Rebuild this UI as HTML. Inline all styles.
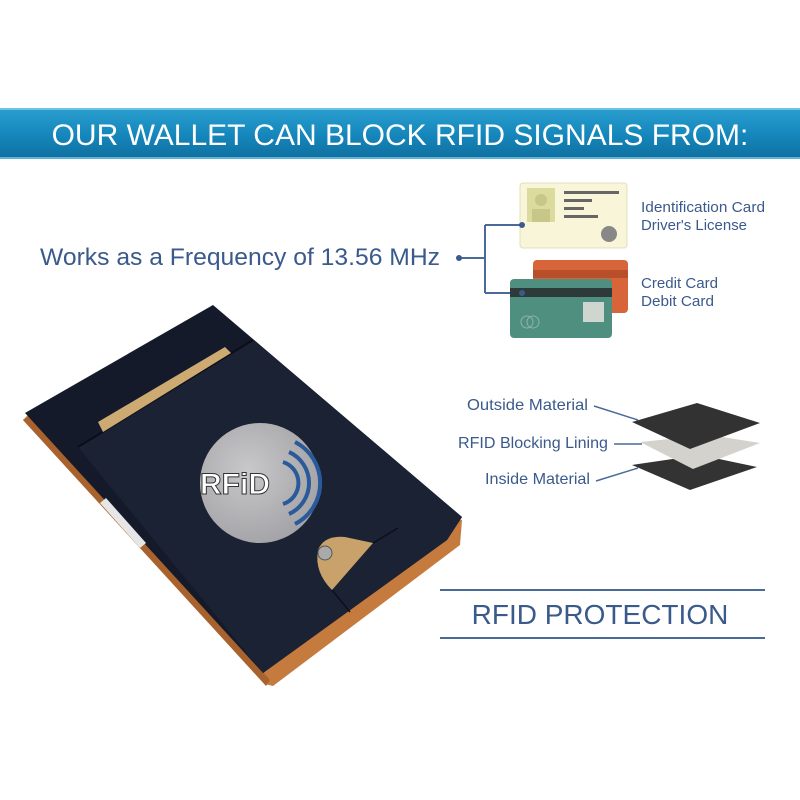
<!DOCTYPE html>
<html><head><style>
body{margin:0;background:#fff;}
svg{display:block}
</style></head><body>
<svg width="800" height="800" viewBox="0 0 800 800" xmlns="http://www.w3.org/2000/svg" font-family="'Liberation Sans',sans-serif">
<defs>
<linearGradient id="hb" x1="0" y1="0" x2="0" y2="1">
<stop offset="0" stop-color="#2a9fcf"/><stop offset="0.5" stop-color="#1688bd"/><stop offset="1" stop-color="#0f6f9f"/>
</linearGradient>
<radialGradient id="circ" cx="0.4" cy="0.4" r="0.7"><stop offset="0" stop-color="#c8c8ca"/><stop offset="1" stop-color="#a0a0a4"/></radialGradient>
</defs>
<rect x="0" y="108" width="800" height="51" fill="url(#hb)"/>
<rect x="0" y="108" width="800" height="2" fill="#6cc3e6"/>
<rect x="0" y="157" width="800" height="2" fill="#5fb4d8"/>
<text x="400" y="145" text-anchor="middle" fill="#fff" font-size="30">OUR WALLET CAN BLOCK RFID SIGNALS FROM:</text>

<text x="40" y="265" fill="#3a5a8c" font-size="24" textLength="400" lengthAdjust="spacingAndGlyphs">Works as a Frequency of 13.56 MHz</text>
<g stroke="#4a6a9a" stroke-width="2" fill="none">
<path d="M459 258 H485 M485 225 V293 M485 225 H522 M485 293 H522"/>
</g>
<circle cx="459" cy="258" r="3" fill="#3a5a8c"/>
<!-- ID card -->
<rect x="520" y="183" width="107" height="65" rx="3" fill="#f8f5d8" stroke="#e2dfc0"/>
<rect x="527" y="188" width="28" height="34" fill="#dcdb9e"/>
<circle cx="541" cy="200" r="6" fill="#c8c787"/>
<rect x="532" y="209" width="18" height="13" fill="#c8c787"/>
<g fill="#666"><rect x="564" y="191" width="55" height="3"/><rect x="564" y="199" width="28" height="3"/><rect x="564" y="207" width="20" height="3"/><rect x="564" y="215" width="34" height="3"/></g>
<circle cx="609" cy="234" r="8" fill="#888"/>
<circle cx="522" cy="225" r="3" fill="#3a5a8c"/>
<!-- credit cards -->
<rect x="533" y="260" width="95" height="53" rx="4" fill="#d8643a"/>
<rect x="533" y="270" width="95" height="8" fill="#b84e2a"/>
<rect x="510" y="279" width="102" height="59" rx="4" fill="#4f8f7f"/>
<rect x="510" y="288" width="102" height="9" fill="#2e3a3a"/>
<rect x="583" y="302" width="21" height="20" fill="#cfd6d0"/>
<circle cx="527" cy="322" r="6" fill="none" stroke="#8bb5a8"/>
<circle cx="533" cy="322" r="6" fill="none" stroke="#8bb5a8"/>
<circle cx="522" cy="293" r="3" fill="#3a5a8c"/>
<g fill="#3a5a8c" font-size="15">
<text x="641" y="212" textLength="124" lengthAdjust="spacingAndGlyphs">Identification Card</text>
<text x="641" y="230" textLength="106" lengthAdjust="spacingAndGlyphs">Driver's License</text>
<text x="641" y="288" textLength="77" lengthAdjust="spacingAndGlyphs">Credit Card</text>
<text x="641" y="306" textLength="73" lengthAdjust="spacingAndGlyphs">Debit Card</text>
</g>

<!-- wallet -->
<polygon points="23,420 30,413 462,520 460,545 273,686 265,684" fill="#c57a3e"/>
<polygon points="23,420 32,414 270,680 266,686" fill="#a8622e"/>
<polygon points="25,413 213,305 462,517 447,540 263,673" fill="#141a2a"/>
<polygon points="78,447 253,340 462,517 447,540 263,673" fill="#1b2233"/>
<path d="M78 447 L253 340" stroke="#0a0e18" stroke-width="2"/>
<polygon points="98,422 225,347 231,353 103,432" fill="#cdaa72"/>
<polygon points="100,503 106,498 146,543 140,548" fill="#e6e6e6"/>
<circle cx="260" cy="483" r="60" fill="url(#circ)"/>
<g fill="none" stroke="#2a5a9a" stroke-width="4">
<path d="M283 462 A22 22 0 0 1 283 504"/>
<path d="M289 452 A34 34 0 0 1 289 514"/>
<path d="M295 442 A46 46 0 0 1 295 524"/>
</g>
<text x="200" y="494" fill="#fff" stroke="#333" stroke-width="1" font-size="30" font-weight="bold">RFiD</text>
<path d="M318 550 Q324 535 345 537 L373 543 L332 590 Q314 572 318 550 Z" fill="#c8a26a"/>
<circle cx="325" cy="553" r="7" fill="#aaa" stroke="#555"/>
<g stroke="#0c101a" stroke-width="1.5" fill="none">
<path d="M373 543 L398 528"/><path d="M332 590 L350 612"/>
</g>

<!-- layers -->
<polygon points="632,465 700,455 757,467 690,490" fill="#333"/>
<polygon points="640,442 710,435 760,443 693,469" fill="#d4d2cc"/>
<polygon points="632,422 697,403 760,423 690,449" fill="#323232"/>
<g stroke="#4a6a9a" stroke-width="1.5">
<line x1="594" y1="406" x2="638" y2="420"/>
<line x1="614" y1="444" x2="642" y2="444"/>
<line x1="596" y1="481" x2="638" y2="468"/>
</g>
<g fill="#3a5a8c" font-size="16">
<text x="467" y="410" textLength="121" lengthAdjust="spacingAndGlyphs">Outside Material</text>
<text x="458" y="448" textLength="150" lengthAdjust="spacingAndGlyphs">RFID Blocking Lining</text>
<text x="485" y="484" textLength="105" lengthAdjust="spacingAndGlyphs">Inside Material</text>
</g>

<rect x="440" y="589" width="325" height="2" fill="#4a6a9a"/>
<rect x="440" y="637" width="325" height="2" fill="#4a6a9a"/>
<text x="600" y="624" text-anchor="middle" fill="#3a5a8c" font-size="28">RFID PROTECTION</text>
</svg>
</body></html>
